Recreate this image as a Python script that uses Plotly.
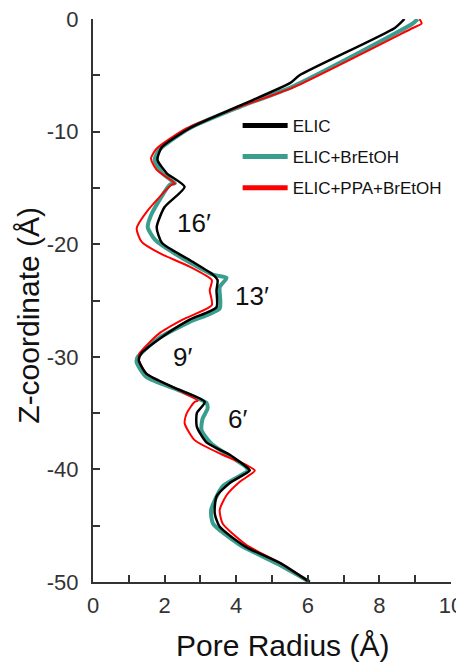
import plotly.graph_objects as go

# ELIC
elic_r = [8.7, 8.43, 5.77, 5.5, 4.1, 2.7, 1.92, 1.8, 2.06, 2.56, 2.0, 1.78, 1.93, 2.7, 3.35, 3.48, 3.45, 3.45, 2.7, 1.95, 1.35, 1.28, 1.49, 2.23, 3.12, 2.9, 2.9, 3.17, 3.82, 4.33, 4.38, 3.82, 3.45, 3.4, 3.54, 4.28, 5.22, 6.05]
elic_z = [0, -0.8, -5.0, -5.7, -7.7, -9.7, -11.4, -12.5, -13.7, -14.9, -16.7, -18.5, -19.9, -21.4, -22.7, -23.2, -24.1, -25.6, -26.7, -28.2, -29.7, -30.3, -31.5, -32.7, -34.0, -35.0, -36.2, -37.6, -38.7, -39.9, -40.1, -41.2, -42.4, -43.9, -45.1, -46.9, -48.3, -50]

# ELIC+BrEtOH
bre_r = [9.07, 8.93, 5.58, 4.1, 2.7, 1.86, 1.72, 1.93, 2.29, 2.15, 1.64, 1.53, 1.73, 2.42, 3.35, 3.73, 3.54, 3.54, 2.7, 1.86, 1.25, 1.22, 1.49, 2.42, 3.17, 3.2, 3.06, 3.03, 3.3, 4.28, 4.33, 3.62, 3.3, 3.35, 4.1, 5.22, 6.05]
bre_z = [0, -0.4, -6.0, -7.8, -9.7, -11.6, -12.5, -13.7, -14.6, -14.7, -17.3, -18.5, -19.6, -21.1, -22.7, -23.0, -23.8, -25.7, -26.9, -28.3, -30.0, -30.5, -31.8, -33.0, -34.1, -34.6, -35.5, -36.5, -37.7, -39.8, -40.1, -41.5, -43.6, -44.8, -46.7, -48.5, -50]

# ELIC+PPA+BrEtOH
ppa_r = [9.12, 9.18, 8.93, 5.58, 4.1, 2.62, 1.78, 1.62, 1.78, 2.29, 2.2, 1.53, 1.22, 1.36, 1.86, 2.7, 3.32, 3.26, 3.32, 2.5, 1.86, 1.3, 1.28, 1.49, 2.23, 2.93, 2.84, 2.62, 2.56, 2.84, 3.62, 4.28, 4.52, 4.1, 3.73, 3.54, 3.62, 4.28, 5.22, 6.05]
ppa_z = [0, -0.4, -0.8, -6.1, -7.8, -9.7, -11.5, -12.4, -13.4, -14.6, -14.7, -17.0, -18.6, -19.8, -20.8, -22.0, -23.2, -24.1, -25.4, -26.7, -27.9, -29.7, -30.3, -31.5, -32.7, -33.9, -34.0, -35.0, -35.9, -37.4, -38.7, -39.6, -40.1, -41.1, -42.3, -43.6, -44.8, -46.7, -48.3, -50]

series_names = ["ELIC", "ELIC+BrEtOH", "ELIC+PPA+BrEtOH"]
series_colors = ["#000000", "#3a9e8e", "#ff0000"]

labels = ["16′", "13′", "9′", "6′"]
label_r = [2.81, 4.43, 2.51, 4.05]
label_z = [-18.1, -24.6, -30.0, -35.5]

x_ticks = list(range(0, 11))
x_text = [str(v) if v % 2 == 0 else "" for v in x_ticks]
y_ticks = list(range(-50, 1, 5))
y_text = [str(v) if v % 10 == 0 else "" for v in y_ticks]

FONT = "Arial, Liberation Sans, sans-serif"
fig = go.Figure()
# data curves (drawn: teal underneath, red, black on top)
fig.add_trace(go.Scatter(x=bre_r, y=bre_z, mode="lines", showlegend=False,
                         line=dict(color=series_colors[1], width=4, shape="spline", smoothing=0.6)))
fig.add_trace(go.Scatter(x=ppa_r, y=ppa_z, mode="lines", showlegend=False,
                         line=dict(color=series_colors[2], width=2, shape="spline", smoothing=0.6)))
fig.add_trace(go.Scatter(x=elic_r, y=elic_z, mode="lines", showlegend=False,
                         line=dict(color=series_colors[0], width=2.5, shape="spline", smoothing=0.6)))
# legend entries with thick sample lines
for i, (nm, col) in enumerate(zip(series_names, series_colors)):
    fig.add_trace(go.Scatter(x=[None], y=[None], mode="lines", name=nm,
                             line=dict(color=col, width=5), legendgroup=f"g{i}", legendrank=i + 1))

for t, xr, zr in zip(labels, label_r, label_z):
    fig.add_annotation(x=xr, y=zr, text=t, showarrow=False,
                       font=dict(size=26, color="#111", family=FONT))

# axis titles placed as annotations for exact positioning
fig.add_annotation(xref="paper", yref="paper", x=0.528, y=-0.112, text="Pore Radius (Å)",
                   showarrow=False, xanchor="center", yanchor="middle",
                   font=dict(size=30, color="#111", family=FONT))
fig.add_annotation(xref="paper", yref="paper", x=-0.18, y=0.474, text="Z-coordinate (Å)",
                   showarrow=False, textangle=-90, xanchor="center", yanchor="middle",
                   font=dict(size=30, color="#111", family=FONT))

axis_common = dict(showline=True, linecolor="#333", linewidth=2, ticks="inside",
                   ticklen=7, tickwidth=1.5, tickcolor="#333", showgrid=False,
                   zeroline=False, tickfont=dict(size=22, color="#333", family=FONT),
                   mirror=False, automargin=False, ticklabeloverflow="allow")
fig.update_xaxes(range=[0, 10], tickmode="array", tickvals=x_ticks, ticktext=x_text,
                 ticklabelstandoff=3, **axis_common)
fig.update_yaxes(range=[-50, 0], tickmode="array", tickvals=y_ticks, ticktext=y_text,
                 ticklabelstandoff=8, **axis_common)

fig.update_layout(
    width=456, height=654,
    margin=dict(l=85, r=13, t=11, b=80),
    plot_bgcolor="white", paper_bgcolor="white",
    legend=dict(x=0.404, y=0.842, xanchor="left", yanchor="top",
                font=dict(size=17, color="#111", family=FONT), itemwidth=45,
                tracegroupgap=6, bgcolor="rgba(0,0,0,0)"),
)
fig.write_html("out.html")
